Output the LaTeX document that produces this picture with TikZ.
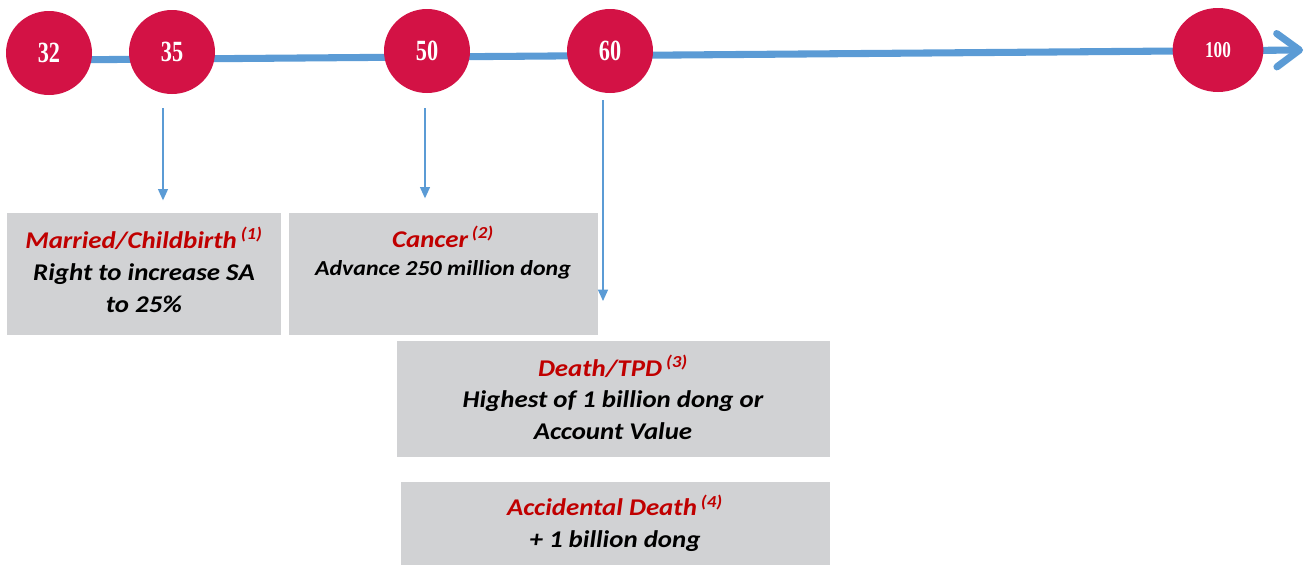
\documentclass[tikz,border=0pt]{standalone}
\usepackage{fontspec}
\setmainfont{Carlito}[FakeStretch=1.12]
\newfontfamily\agefont[FakeStretch=0.76]{Liberation Serif}
\usetikzlibrary{arrows.meta,shapes.geometric}
\definecolor{AgeRed}{HTML}{D31245}
\definecolor{LineBlue}{HTML}{5B9BD5}
\definecolor{BoxGray}{HTML}{D1D2D4}
\definecolor{TitleRed}{HTML}{C00000}
\newcommand{\refmark}[1]{\,\textsuperscript{(#1)}}

\begin{document}
\begin{tikzpicture}[x=0.75pt,y=-0.75pt,
  age/.style={ellipse,fill=AgeRed,text=white,inner sep=0pt,minimum width=64.5pt,minimum height=63pt,font=\agefont\bfseries\fontsize{22}{22}\selectfont},
  box/.style={fill=BoxGray,inner sep=0pt,anchor=north west},
  say/.style={anchor=base,align=center,inner sep=0pt,font=\bfseries\itshape\fontsize{18}{24}\selectfont},
  drop/.style={LineBlue,line width=1pt,-{Triangle[width=7.5pt,length=8.5pt]}}]
\useasboundingbox (0,0) rectangle (1311,565);
% time line
\coordinate (start) at (50,60);\coordinate (tip) at (1303,50);
\draw[LineBlue,line width=5.3pt,-{Straight Barb[length=17pt,width=25pt,round]}] (start)--(tip);
\foreach \n/\x/\y in {32/49/53,35/172/52,50/427/51,60/610/51}{\node[age] (a\n) at (\x,\y) {\n};}
\node[age,minimum width=68pt,font=\agefont\bfseries\fontsize{17}{17}\selectfont] (a100) at (1218,50) {100};
% boxes
\node[box,minimum width=205.5pt,minimum height=91.5pt] (marry) at (7,213) {};
\node[box,minimum width=231.75pt,minimum height=91.5pt] (cancer) at (289,213) {};
\node[box,minimum width=324.75pt,minimum height=87pt] (death) at (397,341) {};
\node[box,minimum width=321.75pt,minimum height=62.25pt] (accident) at (401,482) {};
\node[say] (tmarry) at (144,312) {{\color{TitleRed}Married/Childbirth\refmark{1}}\\Right to increase SA\\to 25\%};
\node[say,font=\bfseries\itshape\fontsize{18}{21}\selectfont] (tcancer) at (443,275) {{\color{TitleRed}Cancer\refmark{2}}\\{\fontsize{16}{21}\selectfont Advance 250 million dong}};
\node[say,font=\bfseries\itshape\fontsize{18}{23.5}\selectfont] (tdeath) at (613,439) {{\color{TitleRed}Death/TPD\refmark{3}}\\Highest of 1 billion dong or\\Account Value};
\node[say,font=\bfseries\itshape\fontsize{18}{23.5}\selectfont] (taccident) at (615,547) {{\color{TitleRed}Accidental Death\refmark{4}}\\+ 1 billion dong};
% arrows down
\coordinate (t35) at (163,108);\coordinate (t50) at (425,108);\coordinate (t60) at (603,100);\coordinate (e60) at (603,301);
\draw[drop,shorten >=9.5pt] (t35)--(t35 |- marry.north);
\draw[drop,shorten >=11pt] (t50)--(t50 |- cancer.north);
\draw[drop] (t60)--(e60);
\end{tikzpicture}
\end{document}
